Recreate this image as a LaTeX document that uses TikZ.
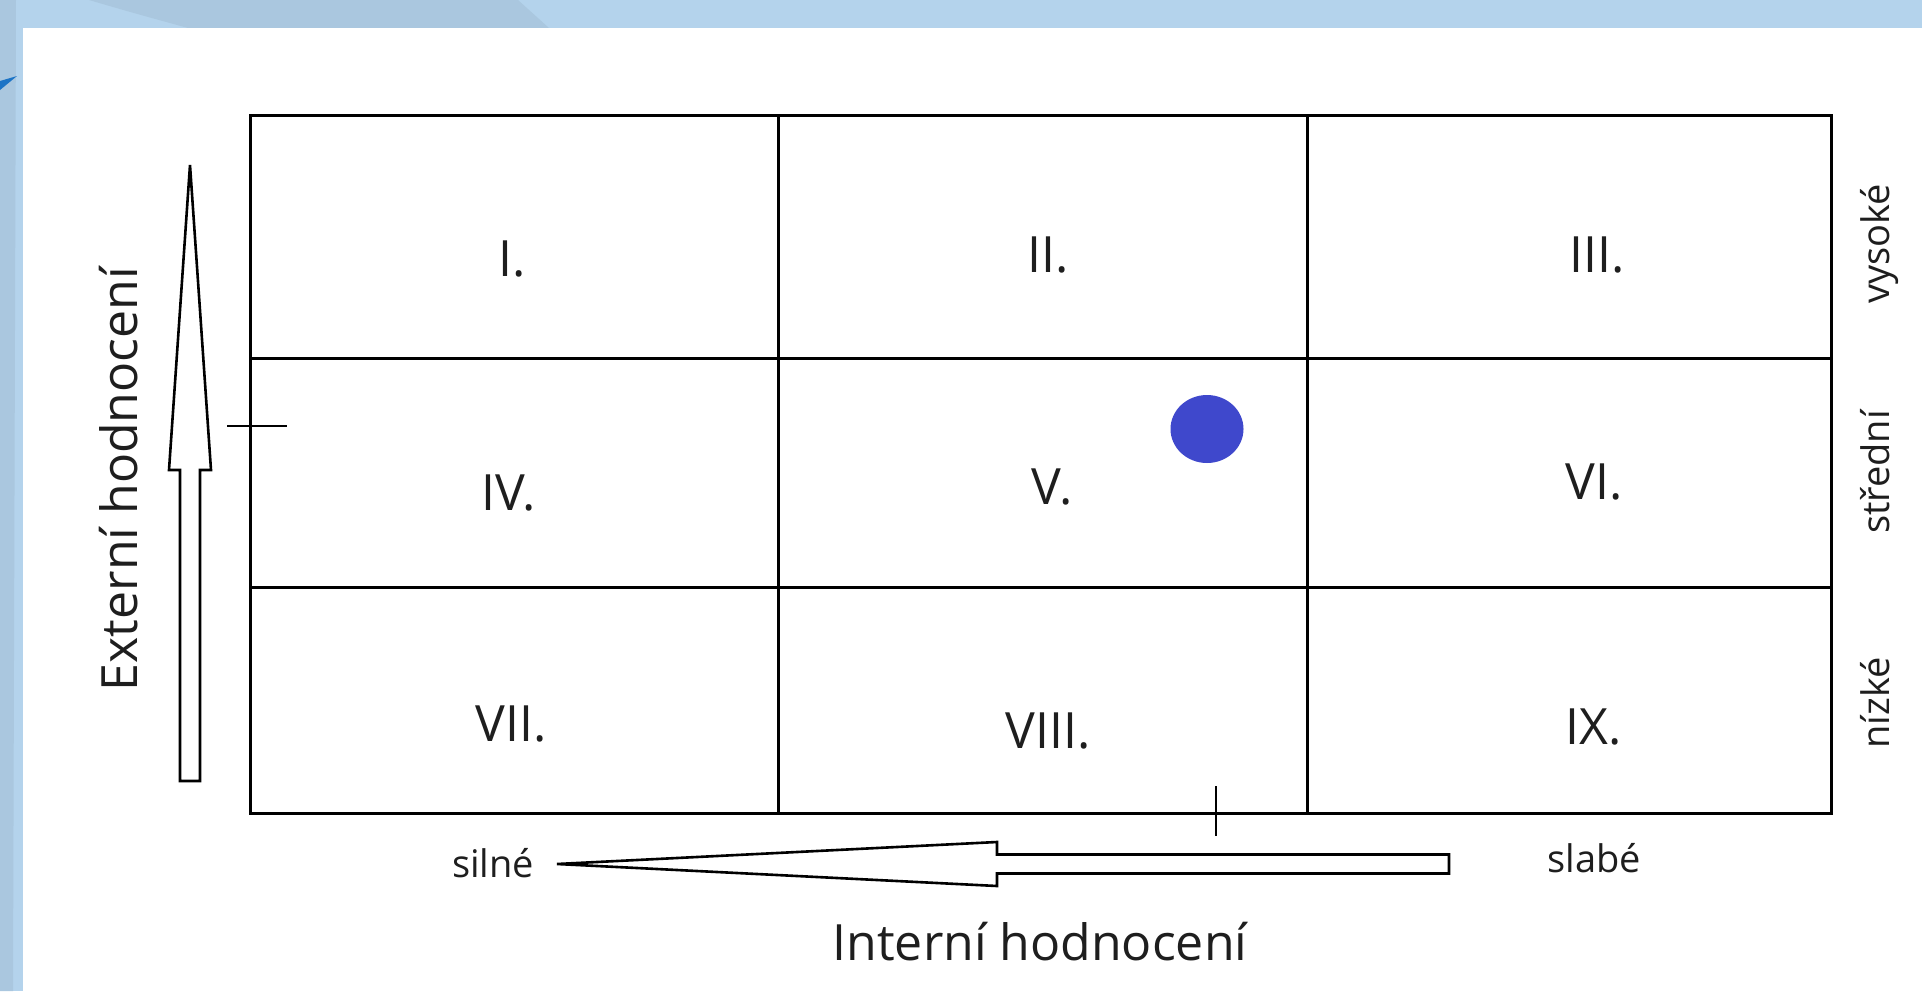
\documentclass[tikz,border=0pt]{standalone}
\usepackage{fontspec}
\setmainfont{Open Sans}
\definecolor{bgblue}{HTML}{B4D3EC}
\definecolor{bgdark}{HTML}{AAC7DF}
\definecolor{swoosh}{HTML}{1C74C6}
\definecolor{dotblue}{HTML}{3F48CC}
\definecolor{txt}{HTML}{1E1E1E}
\begin{document}
\begin{tikzpicture}[x=1pt,y=-1pt,
  gridline/.style={line width=3pt, black},
  arrowshape/.style={draw=black, fill=white, line width=2.6pt},
  tickline/.style={line width=2pt, black},
  big/.style={font=\fontsize{50}{60}\selectfont, text=txt, inner sep=0pt},
  small/.style={font=\fontsize{38}{46}\selectfont, text=txt, inner sep=0pt},
  num/.style={big, anchor=center}
]
\useasboundingbox (0,0) rectangle (1922,991);
% background
\fill[bgblue] (0,0) rectangle (1922,991);
\fill[bgdark] (89,0) .. controls (130,12) .. (188,28) -- (549,28) -- (518,0) -- cycle;
\fill[bgdark] (0,0) -- (16,0) -- (13,991) -- (0,991) -- cycle;
\fill[white] (23,28) rectangle (1922,991);
\fill[swoosh] (0,81) .. controls (8,79) .. (17,76) .. controls (9,83) .. (0,90) -- cycle;

% grid
\coordinate (tl) at (250,115);
\coordinate (br) at (1831,813);
\draw[gridline] (tl) rectangle (br);
\draw[gridline] (778,115) -- (778,813);
\draw[gridline] (1307,115) -- (1307,813);
\draw[gridline] (250,358) -- (1831,358);
\draw[gridline] (250,587) -- (1831,587);

% numerals
\node[num] (n1) at (512,259) {I.};
\node[num] (n2) at (1048,255) {II.};
\node[num] (n3) at (1597,255) {III.};
\node[num] (n4) at (509,493) {IV.};
\node[num] (n5) at (1052,487) {V.};
\node[num] (n6) at (1594,482) {VI.};
\node[num] (n7) at (511,724) {VII.};
\node[num] (n8) at (1048,731) {VIII.};
\node[num] (n9) at (1594,727) {IX.};

% dot
\fill[dotblue] (1207,429) ellipse [x radius=36.5, y radius=34];

% vertical arrow
\draw[arrowshape] (190,165) -- (211,470) -- (200,470) -- (200,781) -- (180,781) -- (180,470) -- (169,470) -- cycle;
% horizontal arrow
\draw[arrowshape] (557,864) -- (997,842) -- (997,854.5) -- (1449,854.5) -- (1449,873.5) -- (997,873.5) -- (997,886) -- cycle;

% ticks
\draw[tickline] (227,426) -- (287,426);
\draw[tickline] (1216,786) -- (1216,836);

% axis labels
\node[big, anchor=base, rotate=90] (ext) at (137,479) {Externí hodnocení};
\node[big, anchor=base] (int) at (1040,960) {Interní hodnocení};
\node[small, anchor=base] (siln) at (493,877) {silné};
\node[small, anchor=base] (slab) at (1594,872) {slabé};
\node[small, anchor=base, rotate=90] (vys) at (1889,244) {vysoké};
\node[small, anchor=base, rotate=90] (str) at (1889,472) {střední};
\node[small, anchor=base, rotate=90] (niz) at (1889,703) {nízké};
\end{tikzpicture}
\end{document}
